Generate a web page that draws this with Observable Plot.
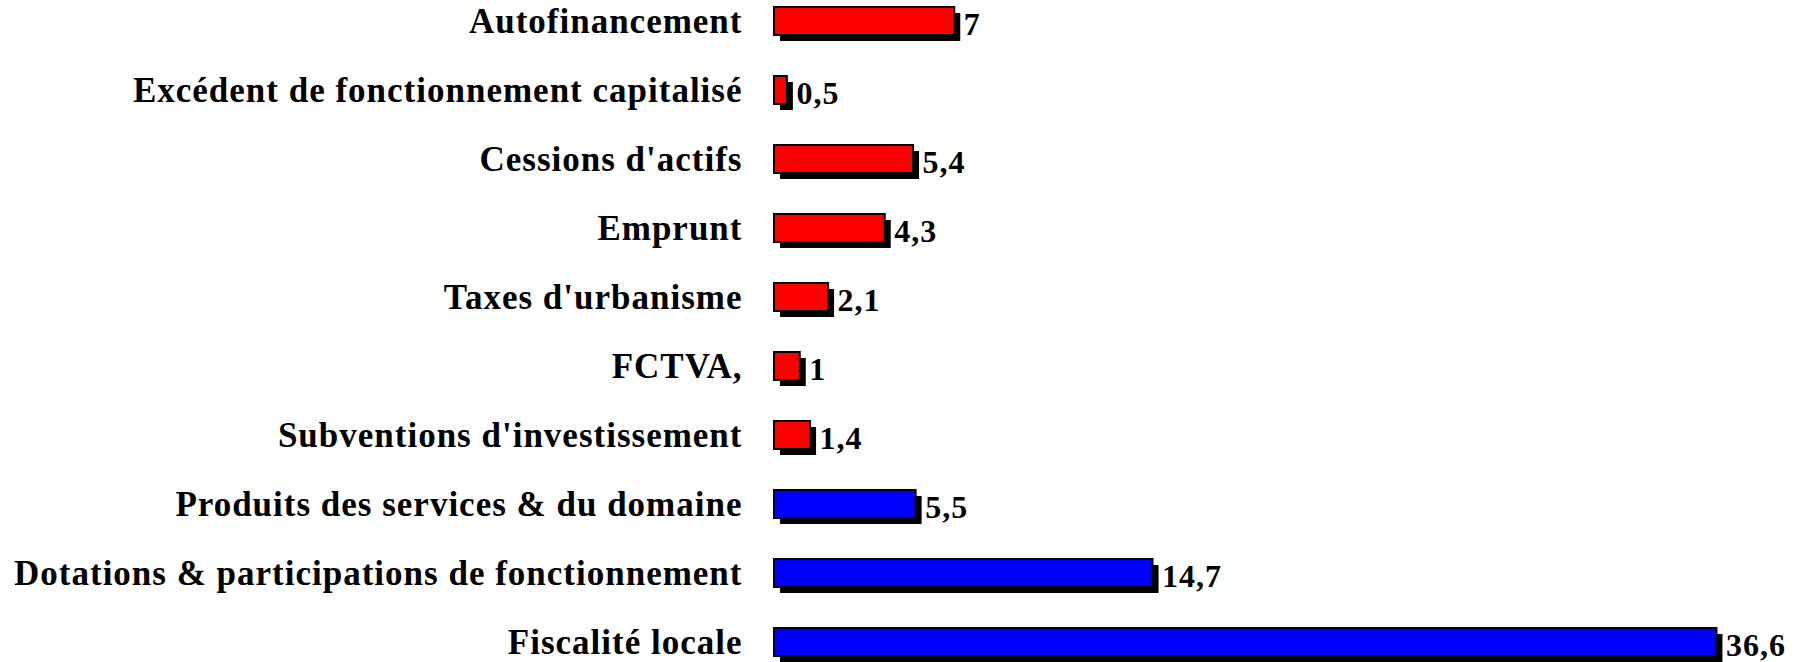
<!DOCTYPE html>
<html>
<head>
<meta charset="utf-8">
<script src="https://cdn.jsdelivr.net/npm/d3@7"></script>
<script src="https://cdn.jsdelivr.net/npm/@observablehq/plot@0.6"></script>
<style>
  html, body { margin: 0; padding: 0; background: #fff; }
</style>
</head>
<body>
<div id="chart"></div>
<script>
const categories = [
  "Autofinancement",
  "Excédent de fonctionnement capitalisé",
  "Cessions d'actifs",
  "Emprunt",
  "Taxes d'urbanisme",
  "FCTVA,",
  "Subventions d'investissement",
  "Produits des services & du domaine",
  "Dotations & participations de fonctionnement",
  "Fiscalité locale"
];
const values = [7, 0.5, 5.4, 4.3, 2.1, 1, 1.4, 5.5, 14.7, 36.6];
const groups = ["inv", "inv", "inv", "inv", "inv", "inv", "inv", "fonc", "fonc", "fonc"];
const groupColors = {inv: "#ff0000", fonc: "#0000ff"};

const data = categories.map((c, i) => ({cat: c, value: values[i], group: groups[i]}));
const fmt = v => String(v).replace(".", ",");

const chart = Plot.plot({
  width: 1806,
  height: 662,
  marginLeft: 774,
  marginRight: 2,
  marginTop: 7,
  marginBottom: 5.5,
  style: {fontFamily: "'Liberation Serif', serif", background: "#fff", letterSpacing: "1px"},
  x: {domain: [0, 40], axis: null},
  y: {domain: categories, paddingInner: 0.595, paddingOuter: 0, label: null},
  marks: [
    Plot.barX(data, {x: "value", y: "cat", fill: "#000", dx: 6, dy: 6}),
    Plot.barX(data, {x: "value", y: "cat", fill: d => groupColors[d.group], stroke: "#000", strokeWidth: 2}),
    Plot.text(data, {x: "value", y: "cat", text: d => fmt(d.value), textAnchor: "start", dx: 9, dy: 3,
      fontSize: 32, fontWeight: "bold", fill: "#000"}),
    Plot.axisY({tickSize: 0, tickPadding: 32, fontSize: 35, fontWeight: "bold", label: null, color: "#000"})
  ]
});
document.getElementById("chart").appendChild(chart);
</script>
</body>
</html>
